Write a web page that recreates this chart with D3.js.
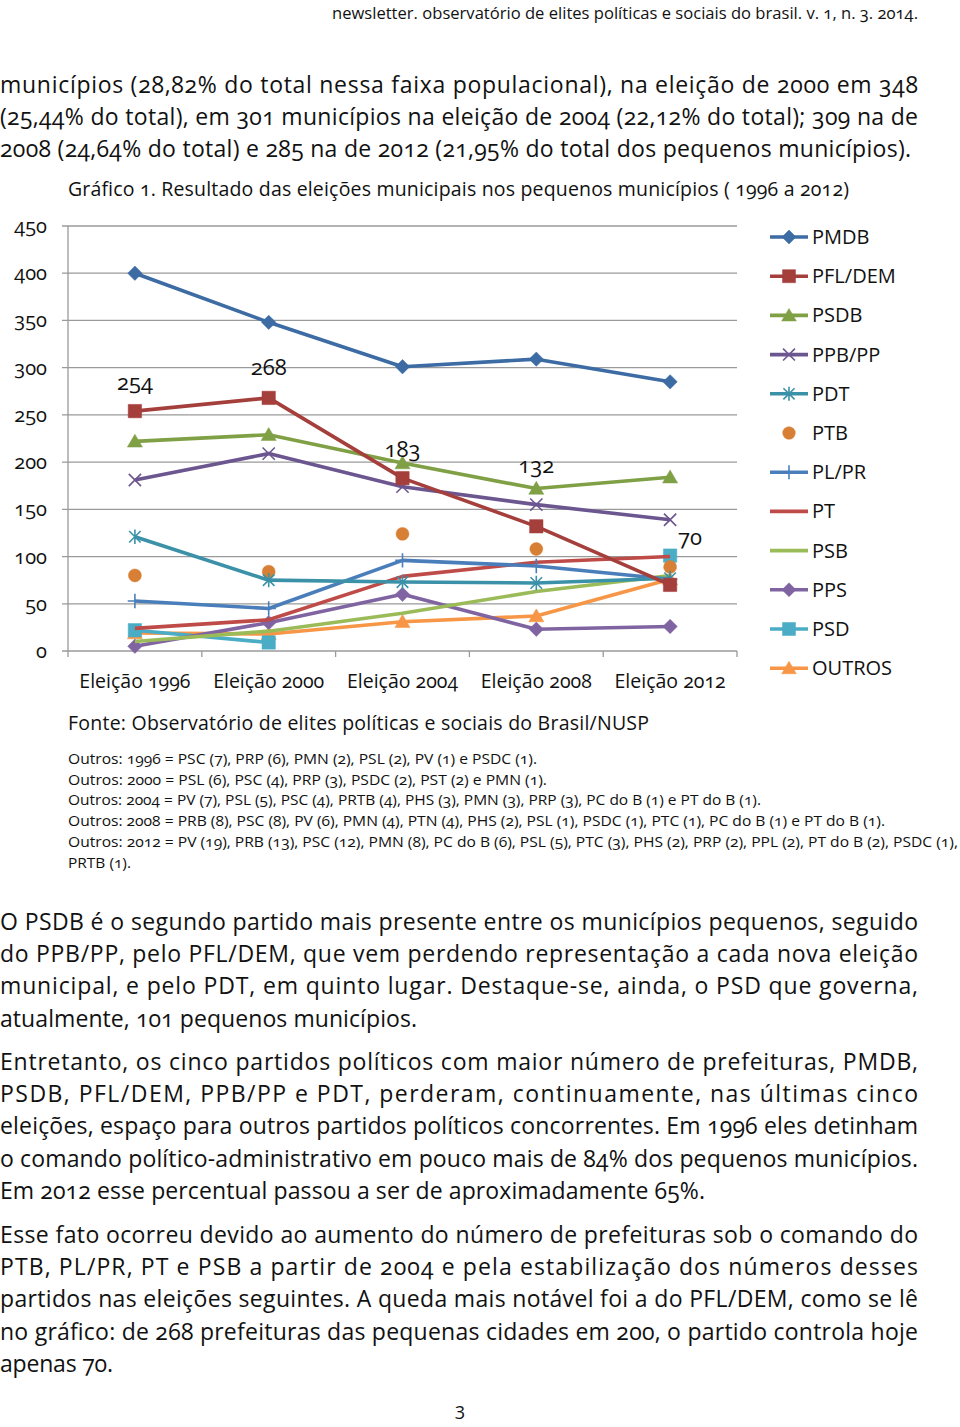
<!DOCTYPE html>
<html><head><meta charset="utf-8">
<script src="https://cdn.jsdelivr.net/npm/d3@7"></script>
<style>
html,body{margin:0;padding:0;background:#fff;}
svg{display:block;}
text{font-family:"Open Sans","Lato",sans-serif;fill:#111;font-feature-settings:"onum" 1;font-variant-numeric:oldstyle-nums;}
.narrow{font-family:"Liberation Sans Narrow","Open Sans",sans-serif;}
.lining{font-feature-settings:"lnum" 1;font-variant-numeric:lining-nums;}
</style></head>
<body>
<script>
// ---------- DATA ----------
const categories = ["Eleição 1996","Eleição 2000","Eleição 2004","Eleição 2008","Eleição 2012"];
const yTicks = [0,50,100,150,200,250,300,350,400,450];
const parties = ["PMDB","PFL/DEM","PSDB","PPB/PP","PDT","PTB","PL/PR","PT","PSB","PPS","PSD","OUTROS"];
const pmdb   = [400, 348, 301, 309, 285];
const pflDem = [254, 268, 183, 132, 70];
const psdb   = [222, 229, 199, 172, 184];
const ppbPp  = [181, 209, 174, 155, 139];
const pdt    = [121, 75, 73, 72, 77];
const ptb    = [80, 84, 124, 108, 89];
const plPr   = [53, 45, 96, 90, 76];
const pt     = [24, 33, 79, 94, 100];
const psb    = [10, 21, 40, 63, 80];
const pps    = [5, 30, 60, 23, 26];
const psd    = [22, 9, null, null, 101];
const outros = [19, 18, 31, 37, 76];
const seriesValues = [pmdb, pflDem, psdb, ppbPp, pdt, ptb, plPr, pt, psb, pps, psd, outros];
// data labels for PFL/DEM
const labelSeries = 1;

// ---------- STYLES ----------
const colors = ["#3D6BA4","#A43F3C","#80A046","#6C5690","#3A91A8","#D67F35","#4A7EBB","#BE4B48","#9BBB59","#8064A2","#4BACC6","#F79646"];
const markers = ["diamond","square","triangle","x","asterisk","circle","plus","none","none","diamond","square","triangle"];
const showLine = [true,true,true,true,true,false,true,true,true,true,true,true];
const labelOffsets = [[0,-29],[0,-31],[0,-29],[0,-61],[20,-48]];

const W = 960, H = 1427;
const svg = d3.select("body").append("svg").attr("width",W).attr("height",H);

// header
svg.append("text").attr("class","narrow").attr("x",332).attr("y",19).attr("font-size",17).attr("fill","#222")
  .attr("textLength",586).attr("lengthAdjust","spacingAndGlyphs")
  .text("newsletter. observatório de elites políticas e sociais do brasil. v. 1, n. 3. 2014.");

function para(lines, y0, widths){
  lines.forEach((t,i)=>{
    svg.append("text").attr("x",0).attr("y",y0+i*32.2).attr("font-size",23)
      .attr("textLength",widths[i]).attr("lengthAdjust","spacing").text(t);
  });
}
para(["municípios (28,82% do total nessa faixa populacional), na eleição de 2000 em 348",
      "(25,44% do total), em 301 municípios na eleição de 2004 (22,12% do total); 309 na de",
      "2008 (24,64% do total) e 285 na de 2012 (21,95% do total dos pequenos municípios)."], 93, [918,918,911]);

// title
svg.append("text").attr("x",68).attr("y",196).attr("font-size",19.5)
  .attr("textLength",781).attr("lengthAdjust","spacing")
  .text("Gráfico 1. Resultado das eleições municipais nos pequenos municípios ( 1996 a 2012)");

// ---------- CHART ----------
const x = d3.scaleBand().domain(categories).range([68,737]).padding(0);
const y = d3.scaleLinear().domain([0,450]).range([651,226]);
const cx = c => x(c) + x.bandwidth()/2;

const g = svg.append("g");
// gridlines
g.selectAll("line.grid").data(yTicks).join("line")
  .attr("x1",62).attr("x2",737).attr("y1",d=>y(d)).attr("y2",d=>y(d))
  .attr("stroke","#9a9a9a").attr("stroke-width",1.3);
// y axis line
g.append("line").attr("x1",68).attr("x2",68).attr("y1",y(450)).attr("y2",y(0)).attr("stroke","#9a9a9a").attr("stroke-width",1.3);
// y tick labels
g.selectAll("text.yt").data(yTicks).join("text")
  .attr("x",47).attr("y",d=>y(d)+7).attr("text-anchor","end").attr("font-size",20).text(d=>d);
// x ticks
const edges = categories.map(c=>x(c)).concat([x(categories[4])+x.bandwidth()]);
g.selectAll("line.xt").data(edges).join("line")
  .attr("x1",d=>d).attr("x2",d=>d).attr("y1",651).attr("y2",657).attr("stroke","#9a9a9a").attr("stroke-width",1.3);
g.selectAll("text.xl").data(categories).join("text")
  .attr("x",d=>cx(d)).attr("y",688).attr("text-anchor","middle").attr("font-size",19.5).text(d=>d);

function markerPath(type, s){
  const p = d3.path();
  switch(type){
    case "diamond": p.moveTo(0,-s);p.lineTo(s,0);p.lineTo(0,s);p.lineTo(-s,0);p.closePath();break;
    case "square": p.rect(-s*0.93,-s*0.93,s*1.86,s*1.86);break;
    case "triangle": p.moveTo(0,-s);p.lineTo(s*1.05,s*0.8);p.lineTo(-s*1.05,s*0.8);p.closePath();break;
    case "circle": p.arc(0,0,s*0.9,0,2*Math.PI);break;
    case "x": p.moveTo(-s*0.85,-s*0.85);p.lineTo(s*0.85,s*0.85);p.moveTo(s*0.85,-s*0.85);p.lineTo(-s*0.85,s*0.85);break;
    case "asterisk": p.moveTo(-s*0.8,-s*0.8);p.lineTo(s*0.8,s*0.8);p.moveTo(s*0.8,-s*0.8);p.lineTo(-s*0.8,s*0.8);p.moveTo(0,-s);p.lineTo(0,s);break;
    case "plus": p.moveTo(0,-s);p.lineTo(0,s);p.moveTo(-s,0);p.lineTo(s,0);break;
  }
  return p.toString();
}
const filled = t => ["diamond","square","triangle","circle"].includes(t);

const line = d3.line().defined(d=>d.v!=null).x(d=>cx(d.c)).y(d=>y(d.v));
// draw series in reverse so PMDB on top
for(let i=seriesValues.length-1;i>=0;i--){
  const data = seriesValues[i].map((v,j)=>({c:categories[j],v}));
  if(showLine[i]){
    g.append("path").datum(data).attr("d",line).attr("fill","none")
      .attr("stroke",colors[i]).attr("stroke-width",3.6).attr("stroke-linejoin","round");
  }
  if(markers[i]!=="none"){
    g.selectAll(null).data(data.filter(d=>d.v!=null)).join("path")
      .attr("transform",d=>`translate(${cx(d.c)},${y(d.v)})`)
      .attr("d",markerPath(markers[i],7.2))
      .attr("fill",filled(markers[i])?colors[i]:"none")
      .attr("stroke",colors[i]).attr("stroke-width",filled(markers[i])?0.5:1.6);
  }
}
// data labels
g.selectAll("text.dl").data(seriesValues[labelSeries].map((v,j)=>({c:categories[j],v,o:labelOffsets[j]}))).join("text")
  .attr("x",d=>cx(d.c)+d.o[0]).attr("y",d=>y(d.v)+d.o[1]+8).attr("text-anchor","middle").attr("font-size",22).text(d=>d.v);

// legend
const lg = svg.append("g");
parties.forEach((p,i)=>{
  const yy = 237 + i*39.2;
  if(showLine[i]) lg.append("line").attr("x1",770).attr("x2",808).attr("y1",yy).attr("y2",yy).attr("stroke",colors[i]).attr("stroke-width",3.6);
  if(markers[i]!=="none"){
    lg.append("path").attr("transform",`translate(789,${yy})`).attr("d",markerPath(markers[i],7))
      .attr("fill",filled(markers[i])?colors[i]:"none").attr("stroke",colors[i]).attr("stroke-width",filled(markers[i])?0.5:1.6);
  }
  lg.append("text").attr("x",812).attr("y",yy+7).attr("font-size",20).text(p);
});

// source
svg.append("text").attr("x",68).attr("y",730).attr("font-size",19.5)
  .attr("textLength",581).attr("lengthAdjust","spacing")
  .text("Fonte: Observatório de elites políticas e sociais do Brasil/NUSP");

const notes = [
 ["Outros: 1996 = PSC (7), PRP (6), PMN (2), PSL (2), PV (1) e PSDC (1).",469],
 ["Outros: 2000 = PSL (6), PSC (4), PRP (3), PSDC (2), PST (2) e PMN (1).",479],
 ["Outros: 2004 = PV (7), PSL (5), PSC (4), PRTB (4), PHS (3), PMN (3), PRP (3), PC do B (1) e PT do B (1).",693],
 ["Outros: 2008 = PRB (8), PSC (8), PV (6), PMN (4), PTN (4), PHS (2), PSL (1), PSDC (1), PTC (1), PC do B (1) e PT do B (1).",817],
 ["Outros: 2012 = PV (19), PRB (13), PSC (12), PMN (8), PC do B (6), PSL (5), PTC (3), PHS (2), PRP (2), PPL (2), PT do B (2), PSDC (1),",890],
 ["PRTB (1).",63]
];
notes.forEach((n,i)=>{
  svg.append("text").attr("class","narrow").attr("x",68).attr("y",764+i*20.7).attr("font-size",15)
    .attr("textLength",n[1]).attr("lengthAdjust","spacingAndGlyphs").text(n[0]);
});

para(["O PSDB é o segundo partido mais presente entre os municípios pequenos, seguido",
      "do PPB/PP, pelo PFL/DEM, que vem perdendo representação a cada nova eleição",
      "municipal, e pelo PDT, em quinto lugar. Destaque-se, ainda, o PSD que governa,",
      "atualmente, 101 pequenos municípios."], 930, [918,918,918,417]);
para(["Entretanto, os cinco partidos políticos com maior número de prefeituras, PMDB,",
      "PSDB, PFL/DEM, PPB/PP e PDT, perderam, continuamente, nas últimas cinco",
      "eleições, espaço para outros partidos políticos concorrentes. Em 1996 eles detinham",
      "o comando político-administrativo em pouco mais de 84% dos pequenos municípios.",
      "Em 2012 esse percentual passou a ser de aproximadamente 65%."], 1070, [918,918,918,918,705]);
para(["Esse fato ocorreu devido ao aumento do número de prefeituras sob o comando do",
      "PTB, PL/PR, PT e PSB a partir de 2004 e pela estabilização dos números desses",
      "partidos nas eleições seguintes. A queda mais notável foi a do PFL/DEM, como se lê",
      "no gráfico: de 268 prefeituras das pequenas cidades em 200, o partido controla hoje",
      "apenas 70."], 1243, [918,918,918,918,113]);

svg.append("text").attr("class","lining").attr("x",460).attr("y",1419).attr("text-anchor","middle").attr("font-size",18).text("3");
</script>
</body></html>
